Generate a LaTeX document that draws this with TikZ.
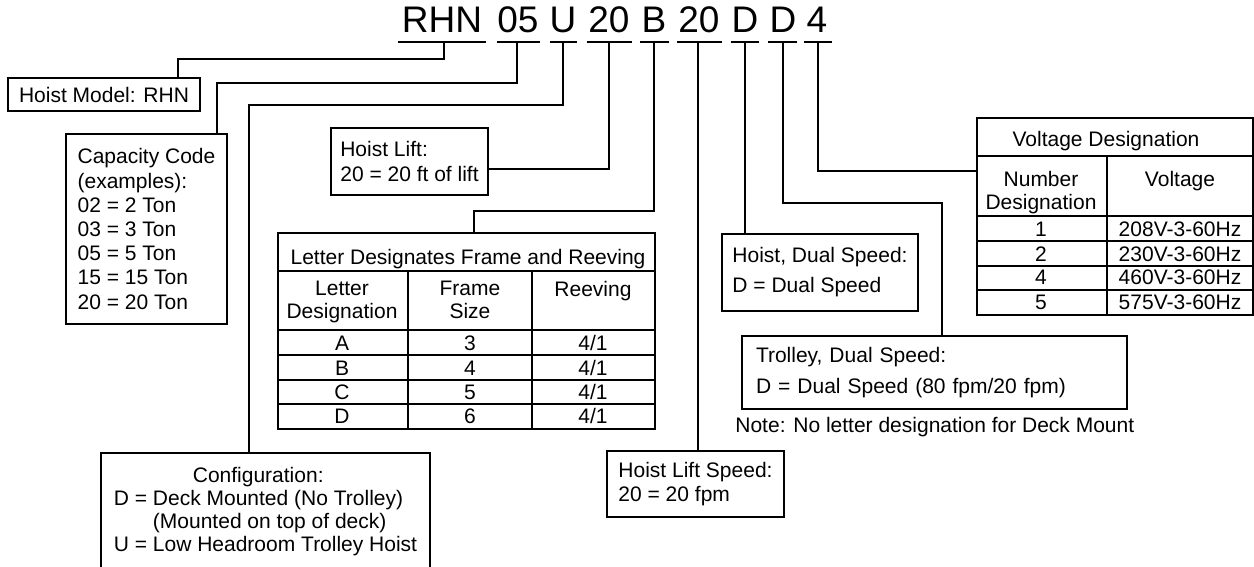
\documentclass[tikz,border=0pt]{standalone}
\usepackage{fontspec}
\setmainfont{Liberation Sans}
\usetikzlibrary{positioning}

\tikzset{
  codebox/.style={draw, line width=1pt, anchor=north west, inner sep=0pt, align=left, font=\fontsize{10.5}{12.1}\selectfont},
  code/.style={anchor=base, inner sep=0pt, font=\fontsize{18.5}{20}\selectfont},
  cell/.style={anchor=base, inner sep=0pt, align=center, font=\fontsize{10.5}{11.5}\selectfont},
  link/.style={line width=1pt},
  grid/.style={line width=1pt},
}

\begin{document}
\begin{tikzpicture}[x=0.5pt, y=-0.5pt]
\useasboundingbox (0,0) rectangle (1254,567);

% --- model code ---
\node[code] (cRHN) at (442,33) {RHN};
\node[code] (c05) at (518,33) {05};
\node[code] (cU) at (563,33) {U};
\node[code] (c20a) at (609,33) {20};
\node[code] (cB) at (654,33) {B};
\node[code] (c20b) at (699,33) {20};
\node[code] (cD1) at (745,33) {D};
\node[code] (cD2) at (783,33) {D};
\node[code] (c4) at (817,33) {4};

\draw[link] (398,42) -- (486,42);
\draw[link] (497,42) -- (540,42);
\draw[link] (550,42) -- (577,42);
\draw[link] (587,42) -- (632,42);
\draw[link] (640,42) -- (669,42);
\draw[link] (677,42) -- (722,42);
\draw[link] (731,42) -- (759,42);
\draw[link] (768,42) -- (797,42);
\draw[link] (804,42) -- (832,42);

\coordinate (uRHN) at (444,42);
\coordinate (u05) at (517,42);
\coordinate (uU) at (563,42);
\coordinate (u20a) at (609,42);
\coordinate (uB) at (654,42);
\coordinate (u20b) at (698,42);
\coordinate (uD1) at (745,42);
\coordinate (uD2) at (783,42);
\coordinate (u4) at (818,42);

% --- boxes ---
\node[codebox, minimum width=96pt, minimum height=16.5pt] (model) at (7,77) {Hoist Model: RHN};
\node[codebox, minimum width=80.5pt, minimum height=95pt] (cap) at (65,133) {Capacity Code\\(examples):\\02 = 2 Ton\\03 = 3 Ton\\05 = 5 Ton\\15 = 15 Ton\\20 = 20 Ton};
\node[codebox, minimum width=78.5pt, minimum height=33.5pt] (lift) at (330,127) {Hoist Lift:\\20 = 20 ft of lift};
\node[codebox, minimum width=164.5pt, minimum height=58.5pt, font=\fontsize{10.5}{11.5}\selectfont] (config) at (100,452)
  {\hspace*{39.5pt}Configuration:\\D = Deck Mounted (No Trolley)\\\phantom{D = }(Mounted on top of deck)\\U = Low Headroom Trolley Hoist};
\node[codebox, minimum width=88.5pt, minimum height=33pt] (speed) at (606,450) {Hoist Lift Speed:\\20 = 20 fpm};
\node[codebox, minimum width=98pt, minimum height=38.5pt, font=\fontsize{10.5}{15}\selectfont] (hdual) at (721,233) {Hoist, Dual Speed:\\D = Dual Speed};
\node[codebox, minimum width=192.5pt, minimum height=36.5pt, text width=178.5pt, inner xsep=7pt, font=\fontsize{10.5}{15.5}\selectfont] (tdual) at (741,335)
  {Trolley, Dual Speed:\\D = Dual Speed (80 fpm/20 fpm)};
\node[cell, anchor=base west] (note) at (735,432) {Note: No letter designation for Deck Mount};

% --- frame and reeving table ---
\node[codebox, minimum width=188.5pt, minimum height=98pt] (ltab) at (277,232) {};
\draw[grid] (277,271) -- (654,271);
\draw[grid] (277,330) -- (654,330);
\draw[grid] (277,355) -- (654,355);
\draw[grid] (277,380) -- (654,380);
\draw[grid] (277,404) -- (654,404);
\draw[grid] (408,271) -- (408,428);
\draw[grid] (532,271) -- (532,428);
\node[cell] (lt) at (468,264) {Letter Designates Frame and Reeving};
\node[cell, anchor=north] (lh1) at (342,281) {Letter\\Designation};
\node[cell, anchor=north] (lh2) at (470,281) {Frame\\Size};
\node[cell, anchor=north] (lh3) at (593,281) {Reeving};
\node[cell] (lA) at (342,350) {A};
\node[cell] (lB) at (342,375) {B};
\node[cell] (lC) at (342,399) {C};
\node[cell] (lD) at (342,423) {D};
\node[cell] (fA) at (470,350) {3};
\node[cell] (fB) at (470,375) {4};
\node[cell] (fC) at (470,399) {5};
\node[cell] (fD) at (470,423) {6};
\node[cell] (rA) at (593,350) {4/1};
\node[cell] (rB) at (593,375) {4/1};
\node[cell] (rC) at (593,399) {4/1};
\node[cell] (rD) at (593,423) {4/1};

% --- voltage table ---
\node[codebox, minimum width=138pt, minimum height=98.5pt] (vtab) at (976,117) {};
\draw[grid] (976,156) -- (1252,156);
\draw[grid] (976,216) -- (1252,216);
\draw[grid] (976,241) -- (1252,241);
\draw[grid] (976,266) -- (1252,266);
\draw[grid] (976,290) -- (1252,290);
\draw[grid] (1107,156) -- (1107,314);
\node[cell] (vt) at (1106,147) {Voltage Designation};
\node[cell, anchor=north] (vh1) at (1041,171) {Number\\Designation};
\node[cell, anchor=north] (vh2) at (1180,171) {Voltage};
\node[cell] (n1) at (1041,236) {1};
\node[cell] (n2) at (1041,261) {2};
\node[cell] (n4) at (1041,285) {4};
\node[cell] (n5) at (1041,309) {5};
\node[cell] (v1) at (1180,236) {208V-3-60Hz};
\node[cell] (v2) at (1180,261) {230V-3-60Hz};
\node[cell] (v4) at (1180,285) {460V-3-60Hz};
\node[cell] (v5) at (1180,309) {575V-3-60Hz};

% --- connectors ---
\coordinate (kRHN) at (178,59);
\coordinate (k05) at (217,83);
\coordinate (kU) at (249,105);
\coordinate (k20a) at (609,169);
\coordinate (kB) at (474,211);
\coordinate (kD2) at (942,203);
\coordinate (k4) at (818,171);
\draw[link] (uRHN) |- (kRHN) -- (kRHN |- model.north);
\draw[link] (u05) |- (k05) -- (k05 |- cap.north);
\draw[link] (uU) |- (kU) -- (kU |- config.north);
\draw[link] (u20a) -- (k20a) -- (k20a -| lift.east);
\draw[link] (uB) |- (kB) -- (kB |- ltab.north);
\draw[link] (u20b) -- (u20b |- speed.north);
\draw[link] (uD1) -- (uD1 |- hdual.north);
\draw[link] (uD2) |- (kD2) -- (kD2 |- tdual.north);
\draw[link] (u4) -- (k4) -- (k4 -| vtab.west);

\end{tikzpicture}
\end{document}
